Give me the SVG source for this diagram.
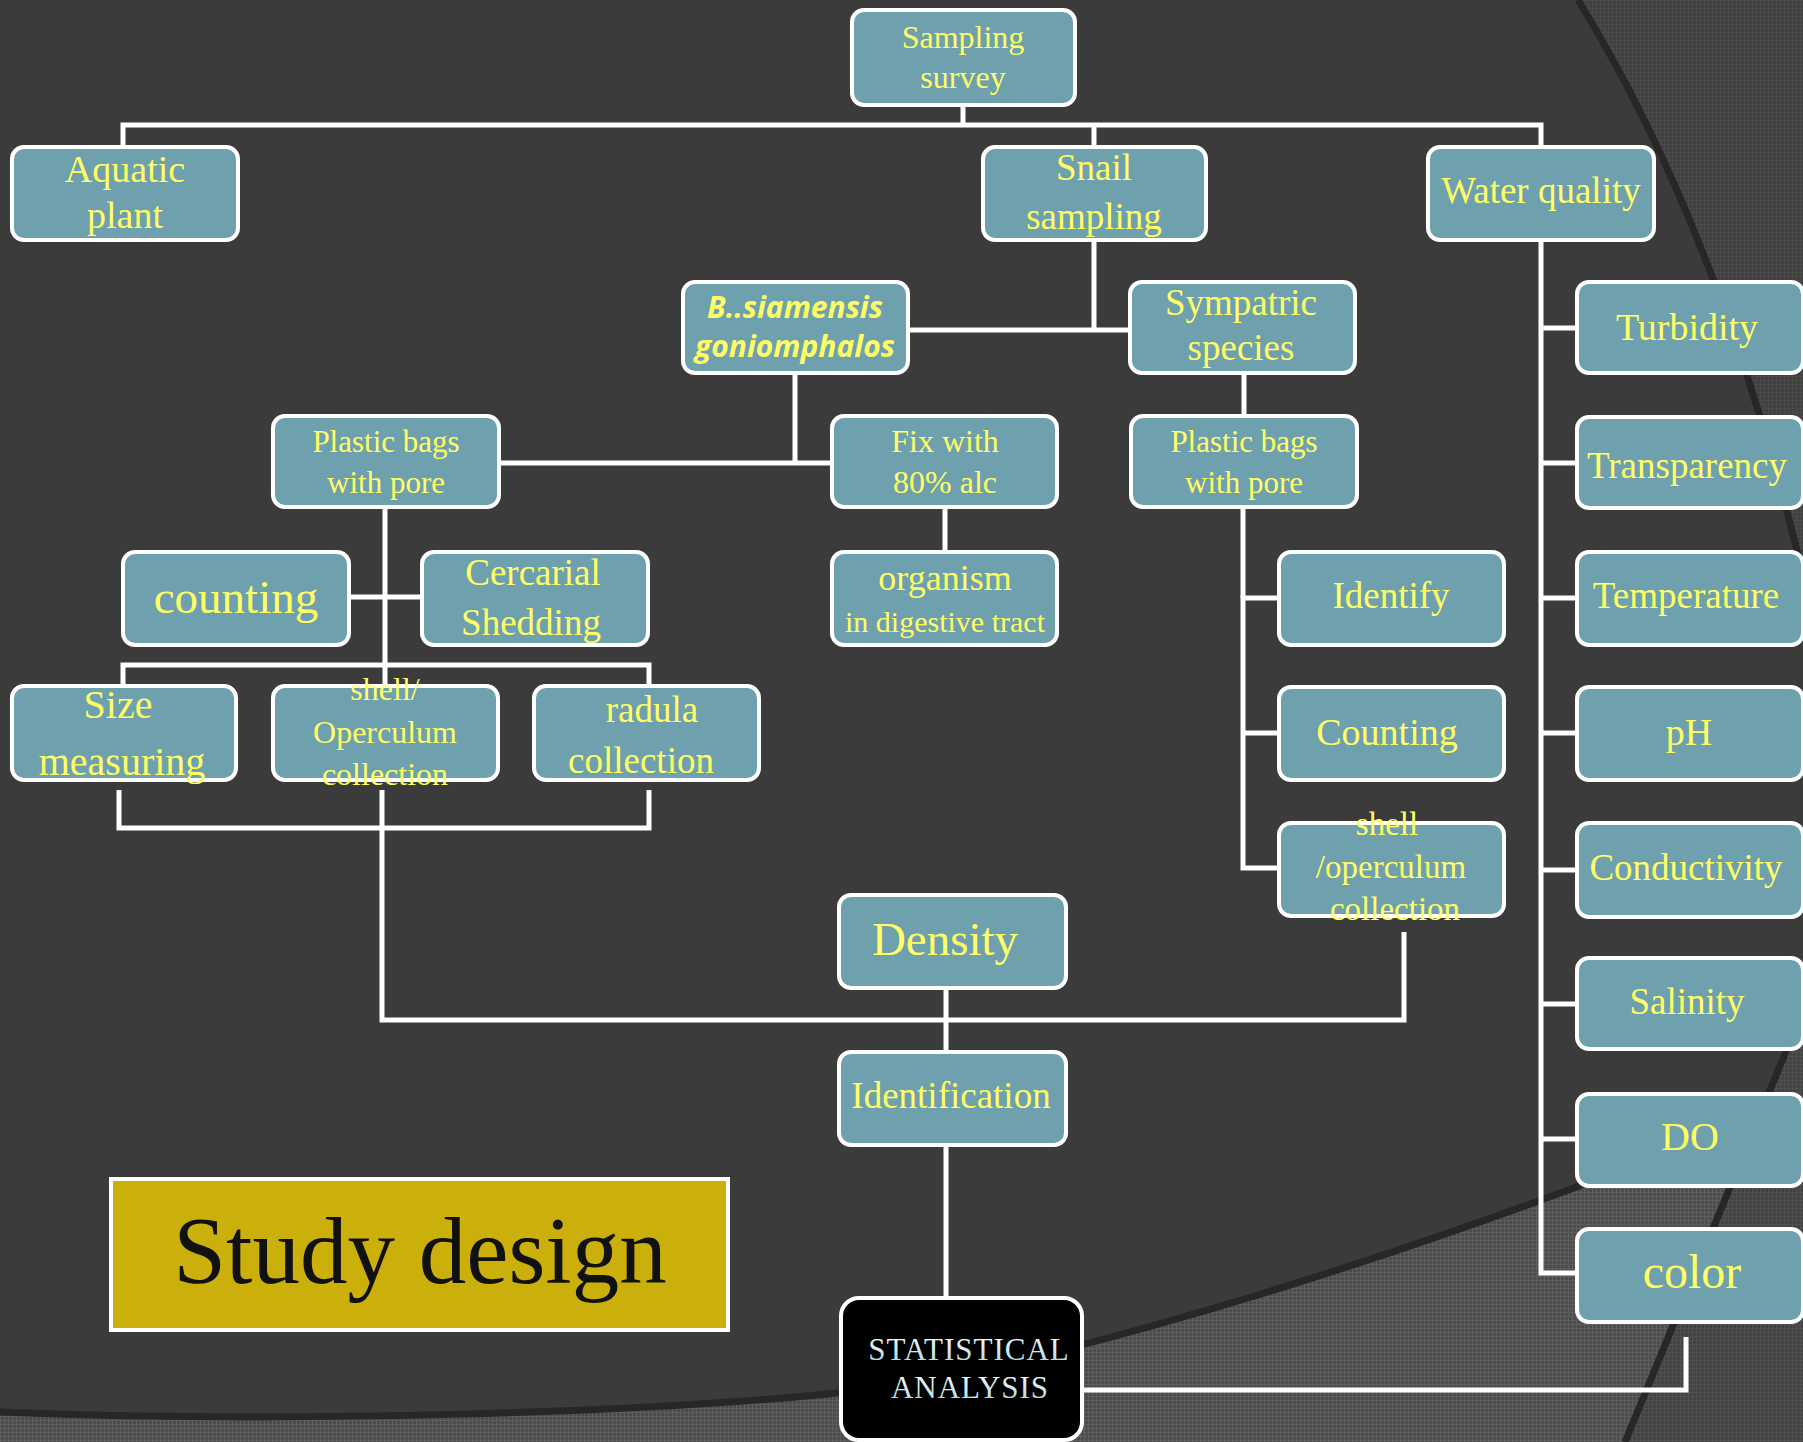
<svg xmlns="http://www.w3.org/2000/svg" width="1803" height="1442" viewBox="0 0 1803 1442">
<defs>
<pattern id="meshA" width="4" height="4" patternUnits="userSpaceOnUse"><rect width="4" height="4" fill="#404040"/><path d="M0 0.5H4M0.5 0V4" stroke="#4a4a4a" stroke-width="1"/></pattern>
<pattern id="meshB" width="4" height="4" patternUnits="userSpaceOnUse"><rect width="4" height="4" fill="#4c4c4c"/><path d="M0 0.5H4M0.5 0V4" stroke="#5e5e5e" stroke-width="1"/></pattern>
<pattern id="meshC" width="4" height="4" patternUnits="userSpaceOnUse"><rect width="4" height="4" fill="#434343"/><path d="M0 0.5H4M0.5 0V4" stroke="#505050" stroke-width="1"/></pattern>
<linearGradient id="statFill" x1="0" y1="0" x2="0" y2="1"><stop offset="0" stop-color="#ffffff"/><stop offset="1" stop-color="#a9d4dc"/></linearGradient>
<style>
.box{fill:#6fa0ae;stroke:#ffffff;stroke-width:4}
.t{font-family:"Liberation Serif","Times New Roman",serif;fill:#ffff66;text-anchor:middle}
.bs{font-family:"Open Sans","Liberation Sans",sans-serif;font-weight:bold;font-style:italic;fill:#ffff66;text-anchor:middle;font-size:30px}
.conn{fill:none;stroke:#ffffff;stroke-width:5}
.edge{fill:none;stroke:#272727;stroke-width:7}
</style>
</defs>
<g id="background">
<rect width="1803" height="1442" fill="#3b3b3b"/>
<path d="M1578,0 Q1720,230 1803,575 L1803,0 Z" fill="url(#meshA)"/>
<path d="M1578,0 Q1720,230 1803,575" class="edge"/>
<path d="M0,1412 C300,1424 650,1412 838,1393 C1000,1377 1300,1290 1590,1182 L1803,1090 L1803,1442 L0,1442 Z" fill="url(#meshB)"/>
<path d="M0,1412 C300,1424 650,1412 838,1393 C1000,1377 1300,1290 1590,1182 L1803,1090" class="edge"/>
<path d="M1803,1010 L1625,1442 L1803,1442 Z" fill="url(#meshC)"/>
<path d="M1803,1010 L1625,1442" class="edge"/>
</g>
<g id="connectors">
<path class="conn" d="M963,105 V125"/>
<path class="conn" d="M123,147 V125 H1541 V147"/>
<path class="conn" d="M1094,125 V147"/>
<path class="conn" d="M1094,240 V330"/>
<path class="conn" d="M908,330 H1130"/>
<path class="conn" d="M795,373 V463"/>
<path class="conn" d="M499,463 H832"/>
<path class="conn" d="M1244,373 V416"/>
<path class="conn" d="M385,507 V686"/>
<path class="conn" d="M349,597 H422"/>
<path class="conn" d="M123,686 V665 H649 V686"/>
<path class="conn" d="M119,790 V828 H649 V790"/>
<path class="conn" d="M382,790 V1020 H1404 V932"/>
<path class="conn" d="M945,507 V552"/>
<path class="conn" d="M946,988 V1052"/>
<path class="conn" d="M946,1145 V1298"/>
<path class="conn" d="M1279,598 H1243 V868 H1279"/>
<path class="conn" d="M1243,507 V598"/>
<path class="conn" d="M1243,733 H1279"/>
<path class="conn" d="M1541,240 V1273 H1577"/>
<path class="conn" d="M1541,328 H1577 M1541,463 H1577 M1541,598 H1577 M1541,733 H1577 M1541,870 H1577 M1541,1004 H1577 M1541,1139 H1577"/>
<path class="conn" d="M1082,1390 H1686 V1337"/>
</g>
<g id="n-sampling"><rect class="box" x="852" y="10" width="223" height="95" rx="12"/><text class="t" font-size="32" x="963" y="48">Sampling</text><text class="t" font-size="32" x="963" y="88">survey</text></g>
<g id="n-aquatic"><rect class="box" x="12" y="147" width="226" height="93" rx="12"/><text class="t" font-size="38" x="125" y="182">Aquatic</text><text class="t" font-size="38" x="125" y="228">plant</text></g>
<g id="n-snail"><rect class="box" x="983" y="147" width="223" height="93" rx="12"/><text class="t" font-size="37" x="1094" y="180">Snail</text><text class="t" font-size="37" x="1094" y="229">sampling</text></g>
<g id="n-water"><rect class="box" x="1428" y="147" width="226" height="93" rx="12"/><text class="t" font-size="37" x="1541" y="203">Water quality</text></g>
<g id="n-bsiam"><rect class="box" x="683" y="282" width="225" height="91" rx="12"/><text class="bs" x="795" y="318">B..siamensis</text><text class="bs" x="795" y="357">goniomphalos</text></g>
<g id="n-sympatric"><rect class="box" x="1130" y="282" width="225" height="91" rx="12"/><text class="t" font-size="37" x="1241" y="315">Sympatric</text><text class="t" font-size="37" x="1241" y="360">species</text></g>
<g id="n-turbidity"><rect class="box" x="1577" y="282" width="226" height="91" rx="12"/><text class="t" font-size="38" x="1687" y="340">Turbidity</text></g>
<g id="n-plastic1"><rect class="box" x="273" y="416" width="226" height="91" rx="12"/><text class="t" font-size="31" x="386" y="452">Plastic bags</text><text class="t" font-size="31" x="386" y="493">with pore</text></g>
<g id="n-fix"><rect class="box" x="832" y="416" width="225" height="91" rx="12"/><text class="t" font-size="32" x="945" y="452">Fix with</text><text class="t" font-size="32" x="945" y="493">80% alc</text></g>
<g id="n-plastic2"><rect class="box" x="1131" y="416" width="226" height="91" rx="12"/><text class="t" font-size="31" x="1244" y="452">Plastic bags</text><text class="t" font-size="31" x="1244" y="493">with pore</text></g>
<g id="n-transparency"><rect class="box" x="1577" y="417" width="226" height="91" rx="12"/><text class="t" font-size="37" x="1687" y="478">Transparency</text></g>
<g id="n-counting"><rect class="box" x="123" y="552" width="226" height="93" rx="12"/><text class="t" font-size="47" x="236" y="613">counting</text></g>
<g id="n-cercarial"><rect class="box" x="422" y="552" width="226" height="93" rx="12"/><text class="t" font-size="37" x="533" y="585">Cercarial</text><text class="t" font-size="37" x="531" y="635">Shedding</text></g>
<g id="n-organism"><rect class="box" x="832" y="552" width="225" height="93" rx="12"/><text class="t" font-size="36" x="945" y="590">organism</text><text class="t" font-size="30" x="945" y="632">in digestive tract</text></g>
<g id="n-identify"><rect class="box" x="1279" y="552" width="225" height="93" rx="12"/><text class="t" font-size="37" x="1391" y="608">Identify</text></g>
<g id="n-temperature"><rect class="box" x="1577" y="552" width="226" height="93" rx="12"/><text class="t" font-size="37" x="1686" y="608">Temperature</text></g>
<g id="n-size"><rect class="box" x="12" y="686" width="224" height="94" rx="12"/><text class="t" font-size="40" x="118" y="718">Size</text><text class="t" font-size="40" x="122" y="775">measuring</text></g>
<g id="n-shell1"><rect class="box" x="273" y="686" width="225" height="94" rx="12"/><text class="t" font-size="32" x="385" y="700">shell/</text><text class="t" font-size="32" x="385" y="743">Operculum</text><text class="t" font-size="32" x="385" y="785">collection</text></g>
<g id="n-radula"><rect class="box" x="534" y="686" width="225" height="94" rx="12"/><text class="t" font-size="37" x="652" y="722">radula</text><text class="t" font-size="37" x="641" y="773">collection</text></g>
<g id="n-counting2"><rect class="box" x="1279" y="687" width="225" height="93" rx="12"/><text class="t" font-size="38" x="1387" y="745">Counting</text></g>
<g id="n-ph"><rect class="box" x="1577" y="687" width="226" height="93" rx="12"/><text class="t" font-size="38" x="1689" y="745">pH</text></g>
<g id="n-shell2"><rect class="box" x="1279" y="823" width="225" height="93" rx="12"/><text class="t" font-size="33" x="1387" y="835">shell</text><text class="t" font-size="33" x="1391" y="878">/operculum</text><text class="t" font-size="33" x="1395" y="920">collection</text></g>
<g id="n-conductivity"><rect class="box" x="1577" y="823" width="226" height="94" rx="12"/><text class="t" font-size="37" x="1686" y="880">Conductivity</text></g>
<g id="n-density"><rect class="box" x="839" y="895" width="227" height="93" rx="12"/><text class="t" font-size="47" x="945" y="955">Density</text></g>
<g id="n-salinity"><rect class="box" x="1577" y="958" width="226" height="91" rx="12"/><text class="t" font-size="37" x="1687" y="1014">Salinity</text></g>
<g id="n-identification"><rect class="box" x="839" y="1052" width="227" height="93" rx="12"/><text class="t" font-size="37" x="951" y="1108">Identification</text></g>
<g id="n-do"><rect class="box" x="1577" y="1094" width="226" height="92" rx="12"/><text class="t" font-size="40" x="1690" y="1150">DO</text></g>
<g id="n-color"><rect class="box" x="1577" y="1229" width="226" height="93" rx="12"/><text class="t" font-size="48" x="1692" y="1288">color</text></g>
<g id="n-stat"><rect x="841" y="1298" width="241" height="142" rx="18" fill="#000000" stroke="#ffffff" stroke-width="4"/><text font-family="Liberation Serif, serif" font-size="31" letter-spacing="1" fill="url(#statFill)" text-anchor="middle" x="969" y="1360">STATISTICAL</text><text font-family="Liberation Serif, serif" font-size="31" letter-spacing="1" fill="url(#statFill)" text-anchor="middle" x="970" y="1398">ANALYSIS</text></g>
<g id="n-title"><rect x="111" y="1179" width="617" height="151" fill="#cbaf0b" stroke="#ffffff" stroke-width="4"/><text font-family="Liberation Serif, serif" font-size="95" fill="#111111" text-anchor="middle" x="420" y="1283">Study design</text></g>
</svg>
